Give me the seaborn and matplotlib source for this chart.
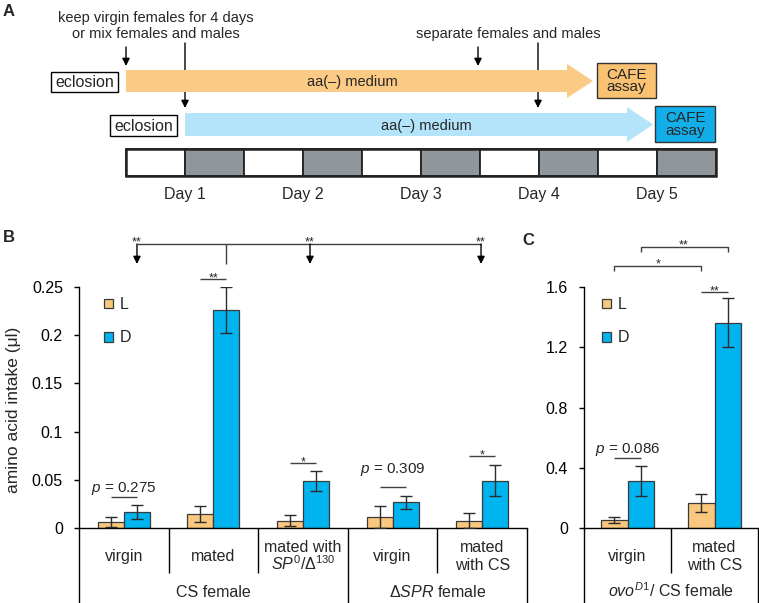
import numpy as np
import pandas as pd
import matplotlib
matplotlib.use("Agg")
import matplotlib.pyplot as plt
import seaborn as sns
from matplotlib.patches import Polygon, Rectangle, Patch
from matplotlib.transforms import blended_transform_factory

# ---------------- data ----------------
hue_levels = ["L", "D"]

b_groups = ["CS virgin", "CS mated", "CS mated SP", "dSPR virgin", "dSPR mated CS"]
b_L = [0.0062, 0.0145, 0.0077, 0.0114, 0.0075]
b_L_err = [0.0050, 0.0080, 0.0058, 0.0115, 0.0078]
b_D = [0.0168, 0.2265, 0.0487, 0.0265, 0.0490]
b_D_err = [0.0071, 0.0237, 0.0108, 0.0068, 0.0160]
b_yticks = [0, 0.05, 0.1, 0.15, 0.2, 0.25]
b_yticklabels = ["0", "0.05", "0.1", "0.15", "0.2", "0.25"]
b_sub_labels = [["virgin"], ["mated"], ["mated with", r"$\it{SP}^{0}$/Δ$^{130}$"],
                ["virgin"], ["mated", "with CS"]]
b_group_labels = ["CS female", r"Δ$\it{SPR}$ female"]

c_groups = ["ovo virgin", "ovo mated CS"]
c_L = [0.051, 0.166]
c_L_err = [0.021, 0.060]
c_D = [0.312, 1.364]
c_D_err = [0.102, 0.161]
c_yticks = [0, 0.4, 0.8, 1.2, 1.6]
c_yticklabels = ["0", "0.4", "0.8", "1.2", "1.6"]
c_sub_labels = [["virgin"], ["mated", "with CS"]]
c_group_label = r"$\it{ovo}^{D1}$/ CS female"

days = ["Day 1", "Day 2", "Day 3", "Day 4", "Day 5"]

# ---------------- style ----------------
sns.set_style("ticks")
plt.rcParams["font.family"] = ["Liberation Sans", "DejaVu Sans"]
plt.rcParams["mathtext.fontset"] = "custom"
plt.rcParams["mathtext.rm"] = "Liberation Sans"
plt.rcParams["mathtext.it"] = "Liberation Sans:italic"
plt.rcParams["mathtext.bf"] = "Liberation Sans:bold"

ORANGE = "#F9C77E"
BLUE = "#00B4EF"
EDGE = "#3a3a3a"
ARROW_OR = "#FBCB85"
ARROW_BL = "#B3E4F9"
CAFE_OR = "#F9C272"
CAFE_BL = "#12AEEA"
GRAY = "#8F979D"
FS = 11.5

W, H = 759, 603
fig = plt.figure(figsize=(W / 100, H / 100), dpi=100)


def fbox(x0, y0, x1, y1):
    return [x0 / W, 1 - y1 / H, (x1 - x0) / W, (y1 - y0) / H]


axB = fig.add_axes(fbox(79, 287, 527, 528))
axC = fig.add_axes(fbox(584, 287, 758, 528))
ov = fig.add_axes([0, 0, 1, 1], zorder=10)
ov.set_xlim(0, W)
ov.set_ylim(H, 0)
ov.axis("off")


def draw_bars(ax, groups, L, Le, D, De, width, ymax, ticks, ticklabels):
    df = pd.DataFrame({
        "group": groups * 2,
        "light": ["L"] * len(groups) + ["D"] * len(groups),
        "intake": L + D,
    })
    sns.barplot(data=df, x="group", y="intake", hue="light", order=groups,
                hue_order=hue_levels, palette={"L": ORANGE, "D": BLUE},
                saturation=1, width=width, errorbar=None, edgecolor=EDGE,
                linewidth=0.9, legend=False, ax=ax)
    for cont, vals, errs in zip(ax.containers, [L, D], [Le, De]):
        xs = [p.get_x() + p.get_width() / 2 for p in cont]
        ax.errorbar(xs, vals, yerr=errs, fmt="none", ecolor="#2b2b2b",
                    elinewidth=1.0, capsize=4, capthick=1.0, zorder=3)
    ax.set_xlim(-0.5, len(groups) - 0.5)
    ax.set_ylim(0, ymax)
    ax.set_xticks([])
    ax.set_xlabel("")
    ax.set_ylabel("")
    ax.set_yticks(ticks)
    ax.set_yticklabels(ticklabels)
    ax.tick_params(axis="y", direction="out", length=3.6, width=1.0, pad=8,
                   labelsize=FS, colors="black")
    for s in ["top", "right"]:
        ax.spines[s].set_visible(False)
    for s in ["left", "bottom"]:
        ax.spines[s].set_linewidth(1.0)
        ax.spines[s].set_color("black")
    ax.patch.set_alpha(0)
    handles = [Patch(facecolor=ORANGE, edgecolor=EDGE, linewidth=0.9),
               Patch(facecolor=BLUE, edgecolor=EDGE, linewidth=0.9)]
    return handles


hB = draw_bars(axB, b_groups, b_L, b_L_err, b_D, b_D_err, 0.58, 0.25,
               b_yticks, b_yticklabels)
hC = draw_bars(axC, c_groups, c_L, c_L_err, c_D, c_D_err, 0.6, 1.6,
               c_yticks, c_yticklabels)

axB.set_ylabel("amino acid intake (μl)", fontsize=12.5)
axB.yaxis.set_label_coords(-0.129, 0.49)

for ax, h, x0 in [(axB, hB, 104), (axC, hC, 602)]:
    ax.legend(h, hue_levels, loc="upper left",
              bbox_to_anchor=(x0 / W, 1 - 297 / H), bbox_transform=fig.transFigure,
              frameon=False, fontsize=FS, handlelength=0.55, handleheight=0.55,
              handletextpad=0.45, labelspacing=1.15, borderpad=0, borderaxespad=0)

tB = blended_transform_factory(axB.transData, ov.transData)
tC = blended_transform_factory(axC.transData, ov.transData)

LW = 1.0


def line(xs, ys, tr, **kw):
    ov.plot(xs, ys, transform=tr, color=kw.pop("color", "black"),
            lw=kw.pop("lw", LW), clip_on=False, solid_capstyle="butt", **kw)


# ---------- category table under the axes ----------
def table(tr, n, sub_labels, long_bounds):
    for i in range(n + 1):
        xb = i - 0.5
        yb = 603 if xb in long_bounds else 573
        line([xb, xb], [528, yb], tr)
    for i, lab in enumerate(sub_labels):
        if len(lab) == 1:
            ov.text(i, 561, lab[0], transform=tr, ha="center", va="baseline", fontsize=FS)
        else:
            ov.text(i, 552, lab[0], transform=tr, ha="center", va="baseline", fontsize=FS)
            ov.text(i, 570, lab[1], transform=tr, ha="center", va="baseline", fontsize=FS)


table(tB, 5, b_sub_labels, [-0.5, 2.5, 4.5])
table(tC, 2, c_sub_labels, [-0.5, 1.5])
ov.text(1.0, 597, b_group_labels[0], transform=tB, ha="center", va="baseline", fontsize=FS)
ov.text(3.5, 597, b_group_labels[1], transform=tB, ha="center", va="baseline", fontsize=FS)
ov.text(0.5, 597, c_group_label, transform=tC, ha="center", va="baseline", fontsize=FS)

# ---------- significance annotations ----------
SFS = 9
PFS = 11
GREYL = "#404040"


def pair(tr, xc, off, ly, text, ty=None, fs=SFS):
    line([xc - off, xc + off], [ly, ly], tr, color=GREYL)
    ov.text(xc, ty if ty is not None else ly + 2, text, transform=tr,
            ha="center", va="baseline", fontsize=fs)


pair(tB, 0, 0.145, 497, r"$\it{p}$ = 0.275", ty=492, fs=PFS)
pair(tB, 1, 0.145, 279, "**")
pair(tB, 2, 0.145, 463, "*")
pair(tB, 3, 0.145, 487, r"$\it{p}$ = 0.309", ty=473, fs=PFS)
pair(tB, 4, 0.145, 456, "*")
pair(tC, 0, 0.15, 458, r"$\it{p}$ = 0.086", ty=453, fs=PFS)
pair(tC, 1, 0.15, 292, "**")

# top bracket in panel B
arrow_x = [0.147, 2.078, 3.987]
line([arrow_x[0], arrow_x[-1]], [244, 244], tB, color=GREYL)
line([1.145, 1.145], [244, 264], tB, color=GREYL)
for xa in arrow_x:
    ov.annotate("", xy=(xa, 264), xytext=(xa, 244), xycoords=tB, textcoords=tB,
                arrowprops=dict(arrowstyle="-|>", color="black", lw=1.0,
                                mutation_scale=11, shrinkA=0, shrinkB=0))
    ov.text(xa, 245, "**", transform=tB, ha="center", va="baseline", fontsize=SFS)

# brackets in panel C
for x0, x1, yb, txt in [(-0.15, 0.85, 266, "*"), (0.15, 1.15, 247, "**")]:
    line([x0, x0, x1, x1], [yb + 5, yb, yb, yb + 5], tC, color=GREYL)
    ov.text((x0 + x1) / 2, yb + 1, txt, transform=tC, ha="center", va="baseline", fontsize=SFS)

# ---------- panel A schematic ----------
ov.text(3, 16, "A", fontsize=12, fontweight="bold", ha="left", va="baseline")
ov.text(3, 242, "B", fontsize=12, fontweight="bold", ha="left", va="baseline")
ov.text(522, 245, "C", fontsize=12, fontweight="bold", ha="left", va="baseline")

ov.text(156, 21.7, "keep virgin females for 4 days", ha="center", va="baseline", fontsize=10.5)
ov.text(156, 37.7, "or mix females and males", ha="center", va="baseline", fontsize=10.5)
ov.text(508, 38, "separate females and males", ha="center", va="baseline", fontsize=10.5)

# fat arrows
ov.add_patch(Polygon([(126, 70), (567, 70), (567, 64), (593, 81), (567, 98), (567, 92), (126, 92)],
                     closed=True, facecolor=ARROW_OR, edgecolor="none", zorder=2))
ov.add_patch(Polygon([(185, 113), (627, 113), (627, 107), (653, 124.5), (627, 142), (627, 136), (185, 136)],
                     closed=True, facecolor=ARROW_BL, edgecolor="none", zorder=2))
ov.text(352, 86, "aa(–) medium", ha="center", va="baseline", fontsize=10.5, zorder=3)
ov.text(426, 130, "aa(–) medium", ha="center", va="baseline", fontsize=10.5, zorder=3)

# thin arrows
for xa, y0, y1 in [(126, 47, 66), (185, 43, 108), (478, 47, 66), (538, 43, 108)]:
    ov.annotate("", xy=(xa, y1), xytext=(xa, y0),
                arrowprops=dict(arrowstyle="-|>", color="black", lw=1.0,
                                mutation_scale=11, shrinkA=0, shrinkB=0), zorder=1)

# eclosion boxes
for (x0, y0, x1, y1) in [(51, 72, 118, 92), (110, 115, 177, 136)]:
    ov.add_patch(Rectangle((x0, y0), x1 - x0, y1 - y0, facecolor="white",
                           edgecolor="black", lw=1.0, zorder=3))
ov.text(84.5, 87.3, "eclosion", ha="center", va="baseline", fontsize=FS, zorder=4)
ov.text(143.5, 130.7, "eclosion", ha="center", va="baseline", fontsize=FS, zorder=4)

# CAFE boxes
for (x0, y0, x1, y1, col) in [(597, 63, 656, 98, CAFE_OR),
                              (655, 106, 715, 142, CAFE_BL)]:
    ov.add_patch(Rectangle((x0, y0), x1 - x0, y1 - y0, facecolor=col,
                           edgecolor="#333333", lw=1.0, zorder=3))
    ov.text((x0 + x1) / 2, (y0 + y1) / 2 + 0.5, "CAFE\nassay", ha="center", va="center",
            fontsize=11, linespacing=0.82, zorder=4)

# light/dark day bar
cell = 59
for k in range(10):
    ov.add_patch(Rectangle((126 + k * cell, 149), cell, 27,
                           facecolor=("white" if k % 2 == 0 else GRAY),
                           edgecolor="#222222", lw=1.3, zorder=3))
ov.add_patch(Rectangle((126, 149), 10 * cell, 27, facecolor="none",
                       edgecolor="#222222", lw=1.8, zorder=4))
for i, d in enumerate(days):
    ov.text(126 + cell * (2 * i + 1), 199, d, ha="center", va="baseline", fontsize=FS)

fig.savefig("out.png", dpi=100)
